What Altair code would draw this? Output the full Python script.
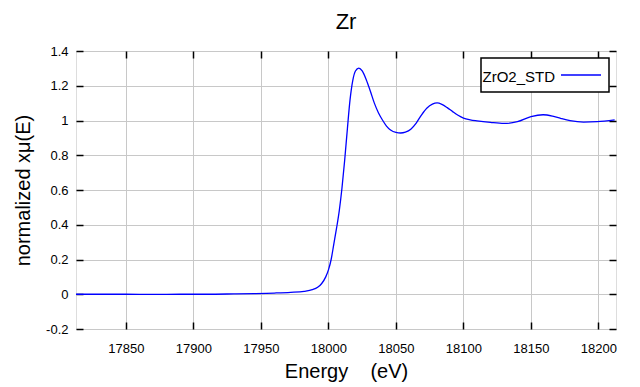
import altair as alt
import pandas as pd

# ---- data ----
energy = [17813, 17830, 17850, 17870, 17890, 17910, 17930, 17945, 17960, 17972,
          17982, 17988, 17992, 17995, 17998, 18000, 18002, 18004, 18006, 18008,
          18010, 18012, 18014, 18016, 18018, 18020, 18022.5, 18025, 18028, 18031,
          18034, 18037, 18040, 18043, 18046, 18050, 18053.5, 18057, 18061, 18065,
          18069, 18073, 18077, 18080.5, 18084, 18088, 18092, 18096, 18100, 18105,
          18110, 18120, 18130, 18140, 18150, 18159, 18166, 18172, 18179, 18189,
          18199, 18212]
mu = [0.0, 0.0, 0.0, -0.001, 0.0, 0.0, 0.002, 0.004, 0.007, 0.011,
      0.017, 0.026, 0.040, 0.062, 0.10, 0.14, 0.20, 0.29, 0.38, 0.48,
      0.61, 0.77, 0.95, 1.12, 1.23, 1.285, 1.302, 1.285, 1.235, 1.17,
      1.10, 1.045, 1.003, 0.968, 0.945, 0.931, 0.928, 0.933, 0.950, 0.985,
      1.033, 1.072, 1.094, 1.101, 1.093, 1.074, 1.051, 1.030, 1.014, 1.004,
      0.998, 0.989, 0.983, 0.993, 1.022, 1.033, 1.025, 1.012, 0.999, 0.991,
      0.993, 1.003]
series = ["ZrO2_STD"]
x_ticks = [17850, 17900, 17950, 18000, 18050, 18100, 18150, 18200]
y_ticks = [-0.2, 0, 0.2, 0.4, 0.6, 0.8, 1.0, 1.2, 1.4]
x_domain = [17813, 18213]
y_domain = [-0.2, 1.4]

df = pd.DataFrame({"energy": energy, "mu": mu, "series": series[0]})
leg = pd.DataFrame({"series": series})

W, H = 540, 278
FONT = "Liberation Sans"
BLUE = "#0000ff"
NB = "\u00a0"

xs = alt.Scale(domain=x_domain, nice=False, zero=False)
ys = alt.Scale(domain=y_domain, nice=False, zero=False)

main_x_axis = alt.Axis(
    orient="bottom", values=x_ticks, format="d", grid=True, gridColor="#c8c8c8",
    gridWidth=1, ticks=False, tickSize=0, domain=False, labelFont=FONT,
    labelFontSize=13, labelColor="black", labelBaseline="alphabetic",
    labelPadding=23, labelFlush=False, labelOverlap=False,
    title="Energy" + NB * 4 + "(eV)", titleFont=FONT, titleFontSize=20,
    titleFontWeight="normal", titleColor="black", titleX=W / 2, titleY=48,
    titleBaseline="alphabetic", titleAlign="center")

main_y_axis = alt.Axis(
    orient="left", values=y_ticks, labelExpr="toString(round(datum.value*10)/10)",
    grid=True, gridColor="#c8c8c8", gridWidth=1, ticks=False, tickSize=0,
    domain=False, labelFont=FONT, labelFontSize=13, labelColor="black",
    labelAlign="right", labelBaseline="middle", labelPadding=8,
    labelFlush=False, labelOverlap=False,
    title="normalized xμ(E)", titleFont=FONT, titleFontSize=20,
    titleFontWeight="normal", titleColor="black", titleX=-47, titleY=H / 2,
    titleAngle=270, titleAlign="center", titleBaseline="alphabetic")


def tick_axis(orient, vals):
    return alt.Axis(orient=orient, values=vals, ticks=True, tickSize=7,
                    tickWidth=1.5, tickColor="black", labels=False, grid=False,
                    domain=False, title=None, offset=-7)


line = alt.Chart(df).mark_line(color=BLUE, strokeWidth=1.3,
                               interpolate="monotone").encode(
    x=alt.X("energy:Q", scale=xs, axis=main_x_axis),
    y=alt.Y("mu:Q", scale=ys, axis=main_y_axis),
)

ticks_a = alt.Chart(df).mark_point(opacity=0).encode(
    x=alt.X("energy:Q", scale=xs, axis=tick_axis("bottom", x_ticks)),
    y=alt.Y("mu:Q", scale=ys, axis=tick_axis("left", y_ticks)),
)
ticks_b = alt.Chart(df).mark_point(opacity=0).encode(
    x=alt.X("energy:Q", scale=xs, axis=tick_axis("top", x_ticks)),
    y=alt.Y("mu:Q", scale=ys, axis=tick_axis("right", y_ticks)),
)

leg_box = alt.Chart(leg).mark_rect(fill="white", stroke="black",
                                   strokeWidth=1.5).encode(
    x=alt.value(405), x2=alt.value(533), y=alt.value(7), y2=alt.value(41))
leg_text = alt.Chart(leg).mark_text(align="left", baseline="alphabetic",
                                    font=FONT, fontSize=15,
                                    color="black").encode(
    x=alt.value(406.5), y=alt.value(30.7), text="series:N")
leg_line = alt.Chart(leg).mark_rule(color=BLUE, strokeWidth=1.3).encode(
    x=alt.value(485), x2=alt.value(525), y=alt.value(24))

chart = alt.layer(line, ticks_a, ticks_b, leg_box, leg_text, leg_line).resolve_axis(
    x="independent", y="independent"
).properties(
    width=W, height=H,
    padding={"left": 68, "top": 43, "right": 16, "bottom": 58},
    autosize=alt.AutoSizeParams(type="none"),
    title=alt.TitleParams("Zr", font=FONT, fontSize=22, fontWeight="normal",
                          color="black", anchor="middle", offset=20, dy=26,
                          baseline="alphabetic"),
).configure_view(stroke="black", strokeWidth=1.5).configure(background="white")

chart.save("out.html", embed_options={"renderer": "svg", "actions": False})
